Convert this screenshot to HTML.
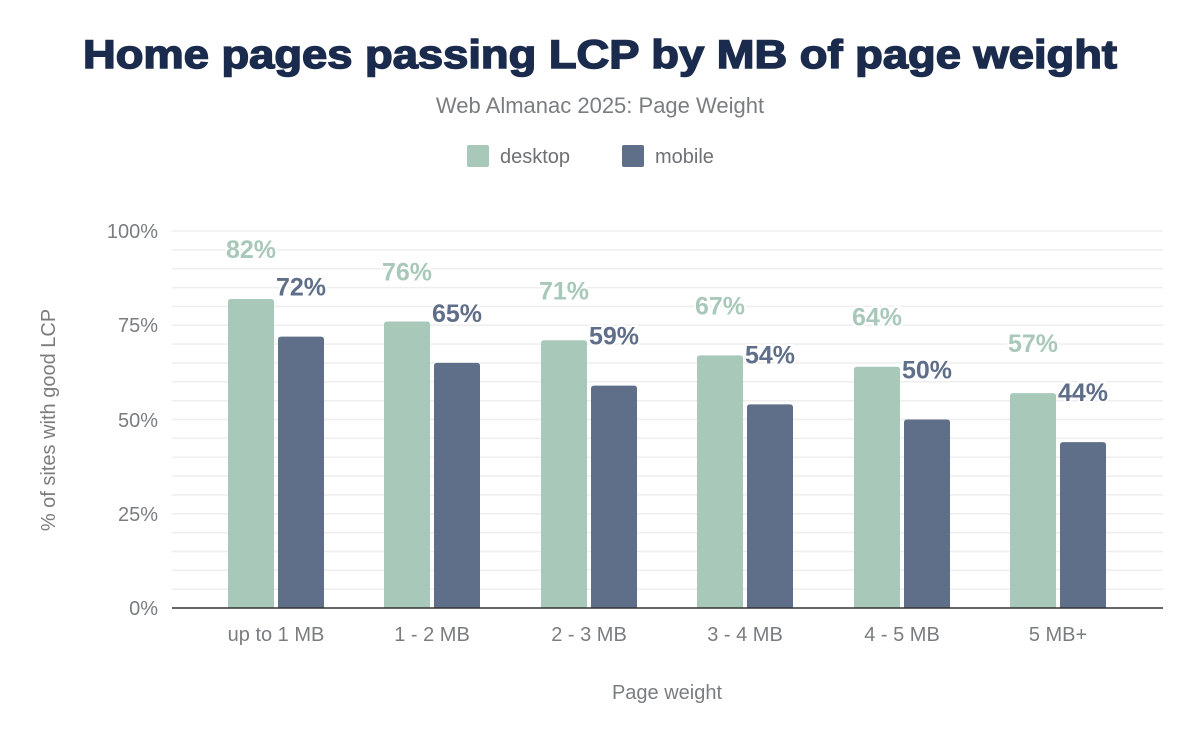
<!DOCTYPE html>
<html><head><meta charset="utf-8"><style>
body{margin:0;background:#fff;width:1200px;height:742px;overflow:hidden;font-family:"Liberation Sans",sans-serif}
</style></head><body>
<svg width="1200" height="742" xmlns="http://www.w3.org/2000/svg" font-family="Liberation Sans, sans-serif">
<text x="600" y="68" text-anchor="middle" font-size="40" font-weight="900" fill="#1a2b4d" stroke="#1a2b4d" stroke-width="1.5" textLength="1034" lengthAdjust="spacingAndGlyphs">Home pages passing LCP by MB of page weight</text>
<text x="600" y="113" text-anchor="middle" font-size="22" fill="#7a7d80">Web Almanac 2025: Page Weight</text>
<rect x="467" y="145" width="22" height="22" rx="2" fill="#a8c9b9"/>
<text x="500" y="163" font-size="20" fill="#6e7073">desktop</text>
<rect x="622" y="145" width="22" height="22" rx="2" fill="#5f6e89"/>
<text x="655" y="163" font-size="20" fill="#6e7073">mobile</text>
<g stroke="#eeeeee" stroke-width="1.5">
<line x1="172" x2="1163" y1="231" y2="231"/><line x1="172" x2="1163" y1="249.9" y2="249.9"/><line x1="172" x2="1163" y1="268.7" y2="268.7"/><line x1="172" x2="1163" y1="287.6" y2="287.6"/><line x1="172" x2="1163" y1="306.4" y2="306.4"/><line x1="172" x2="1163" y1="325.3" y2="325.3"/><line x1="172" x2="1163" y1="344.1" y2="344.1"/><line x1="172" x2="1163" y1="363" y2="363"/><line x1="172" x2="1163" y1="381.8" y2="381.8"/><line x1="172" x2="1163" y1="400.7" y2="400.7"/><line x1="172" x2="1163" y1="419.5" y2="419.5"/><line x1="172" x2="1163" y1="438.4" y2="438.4"/><line x1="172" x2="1163" y1="457.2" y2="457.2"/><line x1="172" x2="1163" y1="476.1" y2="476.1"/><line x1="172" x2="1163" y1="494.9" y2="494.9"/><line x1="172" x2="1163" y1="513.8" y2="513.8"/><line x1="172" x2="1163" y1="532.6" y2="532.6"/><line x1="172" x2="1163" y1="551.5" y2="551.5"/><line x1="172" x2="1163" y1="570.3" y2="570.3"/><line x1="172" x2="1163" y1="589.2" y2="589.2"/>
</g>
<g font-size="20" fill="#7a7d80" text-anchor="end">
<text x="158" y="238">100%</text><text x="158" y="332">75%</text><text x="158" y="427">50%</text><text x="158" y="521">25%</text><text x="158" y="615">0%</text>
</g>
<text transform="translate(55,420) rotate(-90)" text-anchor="middle" font-size="20" fill="#7a7d80">% of sites with good LCP</text>
<g fill="#a8c9b9">
<path d="M228 608V302q0-3 3-3h40q3 0 3 3V608z"/>
<path d="M384 608V324.5q0-3 3-3h40q3 0 3 3V608z"/>
<path d="M541 608V343.3q0-3 3-3h40q3 0 3 3V608z"/>
<path d="M697 608V358.4q0-3 3-3h40q3 0 3 3V608z"/>
<path d="M854 608V369.7q0-3 3-3h40q3 0 3 3V608z"/>
<path d="M1010 608V396.1q0-3 3-3h40q3 0 3 3V608z"/>
</g>
<g fill="#5f6e89">
<path d="M278 608V339.6q0-3 3-3h40q3 0 3 3V608z"/>
<path d="M434 608V365.9q0-3 3-3h40q3 0 3 3V608z"/>
<path d="M591 608V388.6q0-3 3-3h40q3 0 3 3V608z"/>
<path d="M747 608V407.4q0-3 3-3h40q3 0 3 3V608z"/>
<path d="M904 608V422.5q0-3 3-3h40q3 0 3 3V608z"/>
<path d="M1060 608V445.1q0-3 3-3h40q3 0 3 3V608z"/>
</g>
<g font-size="25" font-weight="bold" text-anchor="middle" stroke="#fff" stroke-width="4" paint-order="stroke">
<g fill="#a8c9b9">
<text x="251" y="258">82%</text><text x="407" y="280.5">76%</text><text x="564" y="299.3">71%</text><text x="720" y="314.4">67%</text><text x="877" y="325.7">64%</text><text x="1033" y="352.1">57%</text>
</g>
<g fill="#5f6e89">
<text x="301" y="295.6">72%</text><text x="457" y="321.9">65%</text><text x="614" y="344.6">59%</text><text x="770" y="363.4">54%</text><text x="927" y="378.5">50%</text><text x="1083" y="401.1">44%</text>
</g>
</g>
<line x1="172" x2="1163" y1="608" y2="608" stroke="#333" stroke-width="1.5"/>
<g font-size="20" fill="#7a7d80" text-anchor="middle">
<text x="276" y="641">up to 1 MB</text><text x="432" y="641">1 - 2 MB</text><text x="589" y="641">2 - 3 MB</text><text x="745" y="641">3 - 4 MB</text><text x="902" y="641">4 - 5 MB</text><text x="1058" y="641">5 MB+</text>
</g>
<text x="667" y="699" text-anchor="middle" font-size="20" fill="#7a7d80">Page weight</text>
</svg>
</body></html>
